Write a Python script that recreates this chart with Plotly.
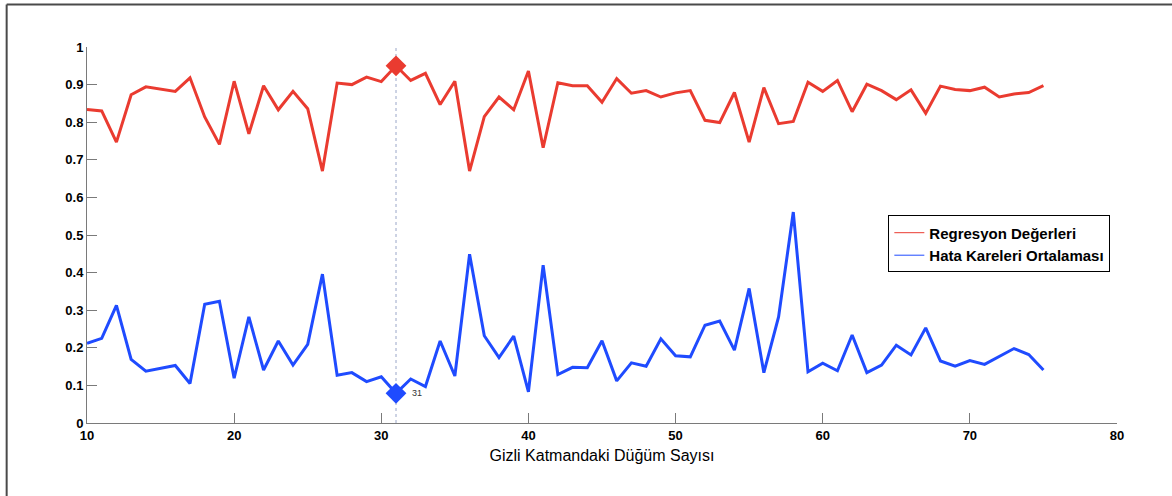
import plotly.graph_objects as go

# Number of hidden-layer nodes
nodes = [10, 11, 12, 13, 14, 15, 16, 17, 18, 19,
         20, 21, 22, 23, 24, 25, 26, 27, 28, 29,
         30, 31, 32, 33, 34, 35, 36, 37, 38, 39,
         40, 41, 42, 43, 44, 45, 46, 47, 48, 49,
         50, 51, 52, 53, 54, 55, 56, 57, 58, 59,
         60, 61, 62, 63, 64, 65, 66, 67, 68, 69,
         70, 71, 72, 73, 74, 75]

# Regression values (R)
regression = [0.834, 0.830, 0.747, 0.873, 0.894, 0.889, 0.882, 0.918, 0.814, 0.741,
              0.909, 0.769, 0.897, 0.833, 0.882, 0.836, 0.670, 0.904, 0.900, 0.920,
              0.908, 0.950, 0.911, 0.930, 0.847, 0.909, 0.670, 0.815, 0.867, 0.833,
              0.936, 0.732, 0.905, 0.897, 0.897, 0.853, 0.916, 0.877, 0.884, 0.867,
              0.878, 0.884, 0.805, 0.799, 0.879, 0.747, 0.892, 0.796, 0.802, 0.906,
              0.882, 0.911, 0.828, 0.901, 0.884, 0.860, 0.886, 0.824, 0.896, 0.887,
              0.884, 0.893, 0.867, 0.875, 0.879, 0.897]

# Mean squared error
mse = [0.212, 0.225, 0.313, 0.169, 0.138, 0.145, 0.153, 0.105, 0.316, 0.324,
       0.119, 0.282, 0.141, 0.218, 0.154, 0.209, 0.396, 0.127, 0.134, 0.110,
       0.123, 0.079, 0.117, 0.097, 0.218, 0.125, 0.449, 0.232, 0.174, 0.231,
       0.083, 0.420, 0.129, 0.148, 0.147, 0.219, 0.112, 0.160, 0.151, 0.224,
       0.179, 0.176, 0.260, 0.271, 0.194, 0.358, 0.134, 0.282, 0.561, 0.136,
       0.159, 0.139, 0.234, 0.134, 0.154, 0.207, 0.181, 0.253, 0.165, 0.151,
       0.166, 0.156, 0.178, 0.198, 0.182, 0.141]

best_node = 31
series_names = ["Regresyon Değerleri", "Hata Kareleri Ortalaması"]
x_title = "Gizli Katmandaki Düğüm Sayısı"
x_ticks = [10, 20, 30, 40, 50, 60, 70, 80]
y_ticks = [0, 0.1, 0.2, 0.3, 0.4, 0.5, 0.6, 0.7, 0.8, 0.9, 1]
y_tick_labels = ["0", "0.1", "0.2", "0.3", "0.4", "0.5", "0.6", "0.7", "0.8", "0.9", "1"]

RED = "#EA3B30"
BLUE = "#1F4BFF"
FONT = "Liberation Sans"

best_idx = nodes.index(best_node)

fig = go.Figure()

# Data-cursor guide line at the selected node
fig.add_trace(go.Scatter(
    x=[best_node, best_node], y=[0, 1], mode="lines",
    line=dict(color="#9aa6c8", width=1, dash="dot"),
    showlegend=False, hoverinfo="skip"))

fig.add_trace(go.Scatter(
    x=nodes, y=regression, mode="lines",
    line=dict(color=RED, width=3), showlegend=False))
fig.add_trace(go.Scatter(
    x=nodes, y=mse, mode="lines",
    line=dict(color=BLUE, width=3), showlegend=False))

# Highlighted points at the selected node
fig.add_trace(go.Scatter(
    x=[best_node], y=[regression[best_idx]], mode="markers",
    marker=dict(symbol="diamond", size=16, color=RED),
    showlegend=False))
fig.add_trace(go.Scatter(
    x=[best_node], y=[mse[best_idx]], mode="markers+text",
    marker=dict(symbol="diamond", size=16, color=BLUE),
    text=["  " + str(best_node)], textposition="middle right",
    textfont=dict(family=FONT, size=9, color="#333333"),
    showlegend=False))

# Legend entries with thin line samples
for name, color in zip(series_names, [RED, BLUE]):
    fig.add_trace(go.Scatter(
        x=[None], y=[None], mode="lines", name=name,
        line=dict(color=color, width=1)))

axis_common = dict(
    showline=True, linecolor="#7a7a7a", linewidth=1,
    ticks="inside", ticklen=10, tickcolor="#7a7a7a", tickwidth=1,
    showgrid=False, zeroline=False,
    tickfont=dict(family=FONT, size=13, color="#000000", weight="bold"),
)

fig.update_xaxes(range=[10, 80], tickvals=x_ticks,
                 title=dict(text=x_title,
                            font=dict(family=FONT, size=16, color="#000000"),
                            standoff=8),
                 **axis_common)
fig.update_yaxes(range=[0, 1], tickvals=y_ticks, ticktext=y_tick_labels, **axis_common)

# Outer frame (top and left edges)
fig.add_shape(type="line", xref="paper", yref="paper",
              x0=-0.078, x1=1.06, y0=1.113, y1=1.113,
              line=dict(color="#4a4a4a", width=2))
fig.add_shape(type="line", xref="paper", yref="paper",
              x0=-0.078, x1=-0.078, y0=1.113, y1=-0.2,
              line=dict(color="#4a4a4a", width=2))

fig.update_layout(
    width=1172, height=496,
    margin=dict(l=87, r=55, t=47, b=73),
    paper_bgcolor="white", plot_bgcolor="white",
    font=dict(family=FONT, size=13, color="#000000"),
    legend=dict(x=0.778, y=0.552, xanchor="left", yanchor="top",
                bordercolor="#000000", borderwidth=1, bgcolor="white",
                font=dict(family=FONT, size=15, color="#000000", weight="bold"),
                tracegroupgap=0, itemwidth=30),
)

fig.write_html("out.html")
